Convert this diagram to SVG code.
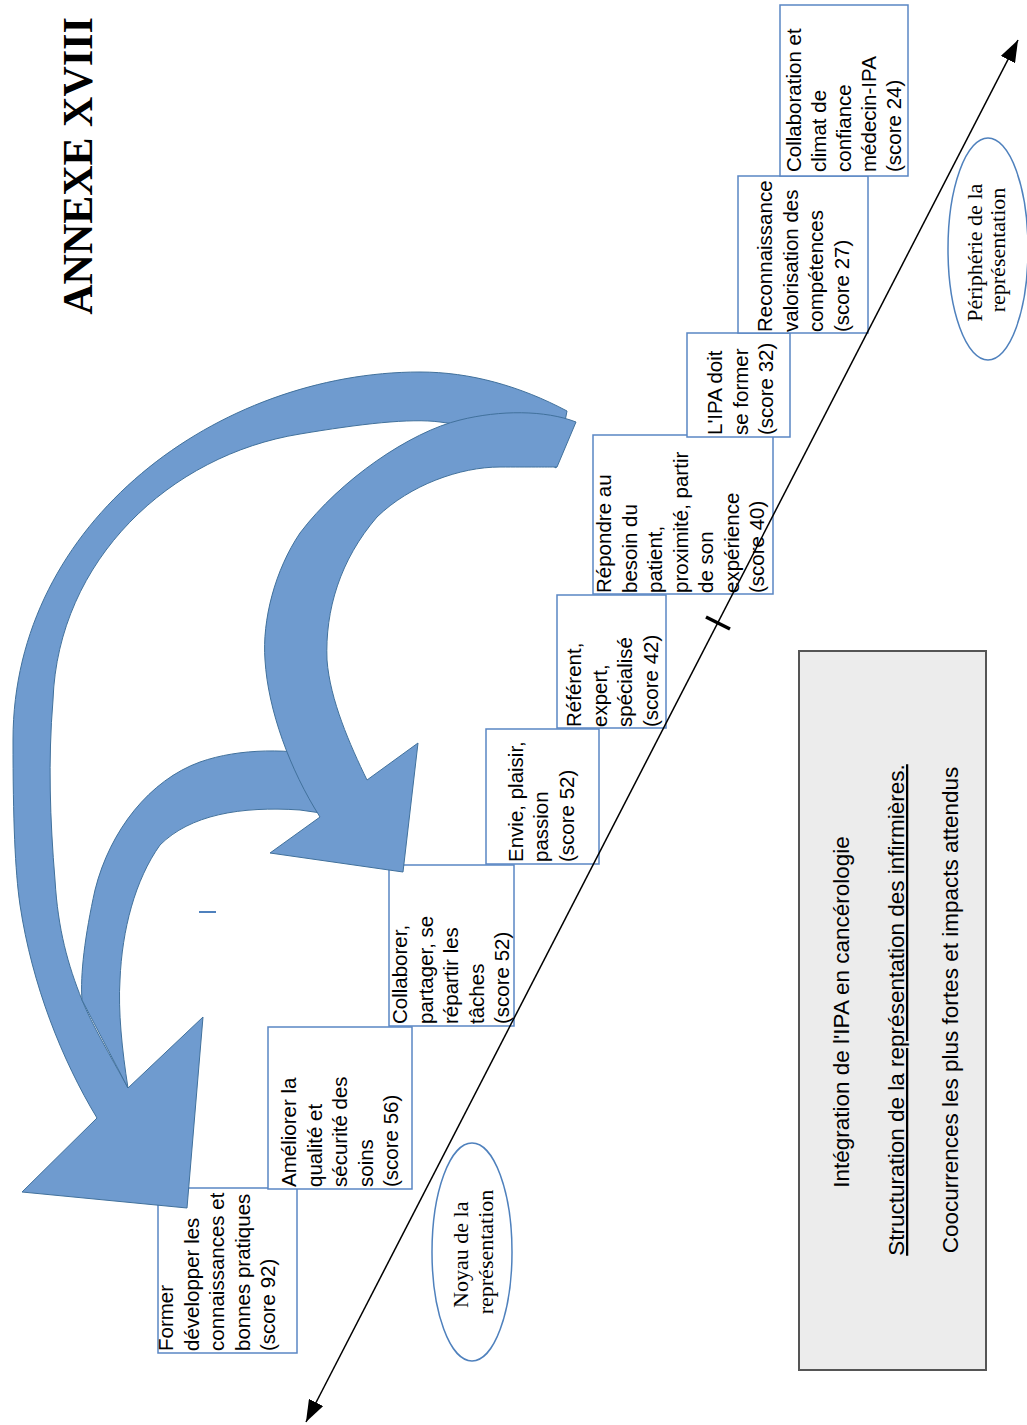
<svg xmlns="http://www.w3.org/2000/svg" width="1027" height="1425" viewBox="0 0 1027 1425">
  <style>
    .box { fill: #ffffff; stroke: #5a86c4; stroke-width: 1.5; }
    .lbl { font-family: "Liberation Sans", Arial, sans-serif; font-size: 20.5px; fill: #000000; }
    .oval { fill: #ffffff; stroke: #4f81bd; stroke-width: 1.5; }
    .oval-lbl { font-family: "Liberation Serif", "Times New Roman", serif; font-size: 22px; fill: #000000; text-anchor: middle; }
    .flow { fill: #6f9bcf; stroke: #41719c; stroke-width: 1; stroke-linejoin: round; }
    .legend-lbl { font-family: "Liberation Sans", Arial, sans-serif; font-size: 22.5px; fill: #000000; text-anchor: middle; }
  </style>
  <defs>
    <marker id="axisHead" markerUnits="userSpaceOnUse" markerWidth="22" markerHeight="16" refX="22" refY="8" orient="auto-start-reverse">
      <path d="M0,0 L22,8 L0,16 Z" fill="#000000"/>
    </marker>
  </defs>

  <rect width="1027" height="1425" fill="#ffffff"/>

  <!-- page title -->
  <text id="title" transform="translate(92,166) rotate(-90)" font-family="'Liberation Serif', 'Times New Roman', serif" font-size="42" font-weight="bold" text-anchor="middle">ANNEXE XVIII</text>

  <!-- staircase of representation elements -->
  <g id="n-former">
    <rect class="box" x="158" y="1188" width="139" height="165"/>
    <text class="lbl" transform="translate(173,1351) rotate(-90)">
      <tspan x="0" y="0">Former</tspan>
      <tspan x="0" y="25.5">développer les</tspan>
      <tspan x="0" y="51">connaissances et</tspan>
      <tspan x="0" y="76.5">bonnes pratiques</tspan>
      <tspan x="0" y="102">(score 92)</tspan>
    </text>
  </g>
  <g id="n-ameliorer">
    <rect class="box" x="268" y="1027" width="144" height="162"/>
    <text class="lbl" transform="translate(296,1187) rotate(-90)">
      <tspan x="0" y="0">Améliorer la</tspan>
      <tspan x="0" y="25.5">qualité et</tspan>
      <tspan x="0" y="51">sécurité des</tspan>
      <tspan x="0" y="76.5">soins</tspan>
      <tspan x="0" y="102">(score 56)</tspan>
    </text>
  </g>
  <g id="n-collaborer">
    <rect class="box" x="389" y="865" width="125" height="161"/>
    <text class="lbl" transform="translate(407,1024) rotate(-90)">
      <tspan x="0" y="0">Collaborer,</tspan>
      <tspan x="0" y="25.5">partager, se</tspan>
      <tspan x="0" y="51">répartir les</tspan>
      <tspan x="0" y="76.5">tâches</tspan>
      <tspan x="0" y="102">(score 52)</tspan>
    </text>
  </g>
  <g id="n-envie">
    <rect class="box" x="486" y="729" width="113" height="135"/>
    <text class="lbl" transform="translate(522.5,862) rotate(-90)">
      <tspan x="0" y="0">Envie, plaisir,</tspan>
      <tspan x="0" y="25.5">passion</tspan>
      <tspan x="0" y="51">(score 52)</tspan>
    </text>
  </g>
  <g id="n-referent">
    <rect class="box" x="557" y="595" width="109" height="133"/>
    <text class="lbl" transform="translate(581,727) rotate(-90)">
      <tspan x="0" y="0">Référent,</tspan>
      <tspan x="0" y="25.5">expert,</tspan>
      <tspan x="0" y="51">spécialisé</tspan>
      <tspan x="0" y="76.5">(score 42)</tspan>
    </text>
  </g>
  <g id="n-repondre">
    <rect class="box" x="593" y="435" width="180" height="159"/>
    <text class="lbl" transform="translate(611,593) rotate(-90)">
      <tspan x="0" y="0">Répondre au</tspan>
      <tspan x="0" y="25.5">besoin du</tspan>
      <tspan x="0" y="51">patient,</tspan>
      <tspan x="0" y="76.5">proximité, partir</tspan>
      <tspan x="0" y="102">de son</tspan>
      <tspan x="0" y="127.5">expérience</tspan>
      <tspan x="0" y="153">(score 40)</tspan>
    </text>
  </g>
  <g id="n-ipa-former">
    <rect class="box" x="687" y="333" width="103" height="104"/>
    <text class="lbl" transform="translate(722,435) rotate(-90)">
      <tspan x="0" y="0">L'IPA doit</tspan>
      <tspan x="0" y="25.5">se former</tspan>
      <tspan x="0" y="51">(score 32)</tspan>
    </text>
  </g>
  <g id="n-reconnaissance">
    <rect class="box" x="738" y="176" width="130" height="157"/>
    <text class="lbl" transform="translate(772,332) rotate(-90)">
      <tspan x="0" y="0">Reconnaissance</tspan>
      <tspan x="0" y="25.5">valorisation des</tspan>
      <tspan x="0" y="51">compétences</tspan>
      <tspan x="0" y="76.5">(score 27)</tspan>
    </text>
  </g>
  <g id="n-collaboration">
    <rect class="box" x="780" y="5" width="128" height="171"/>
    <text class="lbl" transform="translate(801,172) rotate(-90)">
      <tspan x="0" y="0">Collaboration et</tspan>
      <tspan x="0" y="25">climat de</tspan>
      <tspan x="0" y="50">confiance</tspan>
      <tspan x="0" y="75">médecin-IPA</tspan>
      <tspan x="0" y="100">(score 24)</tspan>
    </text>
  </g>

  <!-- core / periphery labels -->
  <g id="n-noyau">
    <ellipse class="oval" cx="472" cy="1252" rx="40" ry="109"/>
    <text class="oval-lbl" transform="translate(468,1252) rotate(-90)">
      <tspan x="0" y="0">Noyau de la</tspan>
      <tspan x="0" y="25">représentation</tspan>
    </text>
  </g>
  <g id="n-peripherie">
    <ellipse class="oval" cx="988" cy="249" rx="40" ry="111"/>
    <text class="oval-lbl" transform="translate(982,250) rotate(-90)">
      <tspan x="0" y="0">Périphérie de la</tspan>
      <tspan x="0" y="23">représentation</tspan>
    </text>
  </g>

  <!-- legend panel -->
  <g id="n-legend">
    <rect x="799" y="651" width="187" height="719" fill="#ececec" stroke="#555555" stroke-width="2"/>
    <text class="legend-lbl" transform="translate(849,1012) rotate(-90)">Intégration de l'IPA en cancérologie</text>
    <text class="legend-lbl" transform="translate(904,1010) rotate(-90)" text-decoration="underline">Structuration de la représentation des infirmières.</text>
    <text class="legend-lbl" transform="translate(958,1010) rotate(-90)">Coocurrences les plus fortes et impacts attendus</text>
  </g>

  <!-- connectors: axis and curved flows -->
  <g id="connectors">
    <line x1="306" y1="1422" x2="1018" y2="40" stroke="#000000" stroke-width="1.5" marker-start="url(#axisHead)" marker-end="url(#axisHead)"/>
    <line x1="706" y1="617" x2="730" y2="629" stroke="#000000" stroke-width="3.5"/>
    <line x1="199" y1="912" x2="216" y2="912" stroke="#4f81bd" stroke-width="2"/>

    <!-- outer flow towards "Former" -->
    <path class="flow" d="M567,411
      C520,386 470,372 420,372
      C220,372 13,520 13,740
      C13,820 15,870 20,905
      C32,985 62,1060 97,1118
      L22,1192 L187,1208 L203,1017 L128,1088
      C110,1055 92,1025 82,1000
      C68,965 58,930 55,880
      C50,820 48,760 53,700
      C58,560 170,455 300,434
      C360,424 410,418 440,422
      C490,428 530,450 556,468 Z"/>

    <!-- inner flow towards "Former" -->
    <path class="flow" d="M335,758
      C290,748 240,748 200,762
      C150,780 110,830 95,890
      C85,935 80,975 82,1000
      L128,1088
      C122,1050 118,1010 120,980
      C122,930 135,880 160,845
      C190,815 240,806 300,810
      L335,815 Z"/>

    <!-- flow towards "Collaborer" -->
    <path class="flow" d="M576,422
      C545,410 500,410 460,420
      C410,432 340,480 300,533
      C275,570 262,620 265,660
      C268,710 290,770 320,817
      L270,853 L403,872 L418,743 L367,780
      C350,745 330,700 327,660
      C325,610 340,560 377,517
      C410,485 460,467 500,467
      C530,467 545,467 557,467 Z"/>
  </g>
</svg>
